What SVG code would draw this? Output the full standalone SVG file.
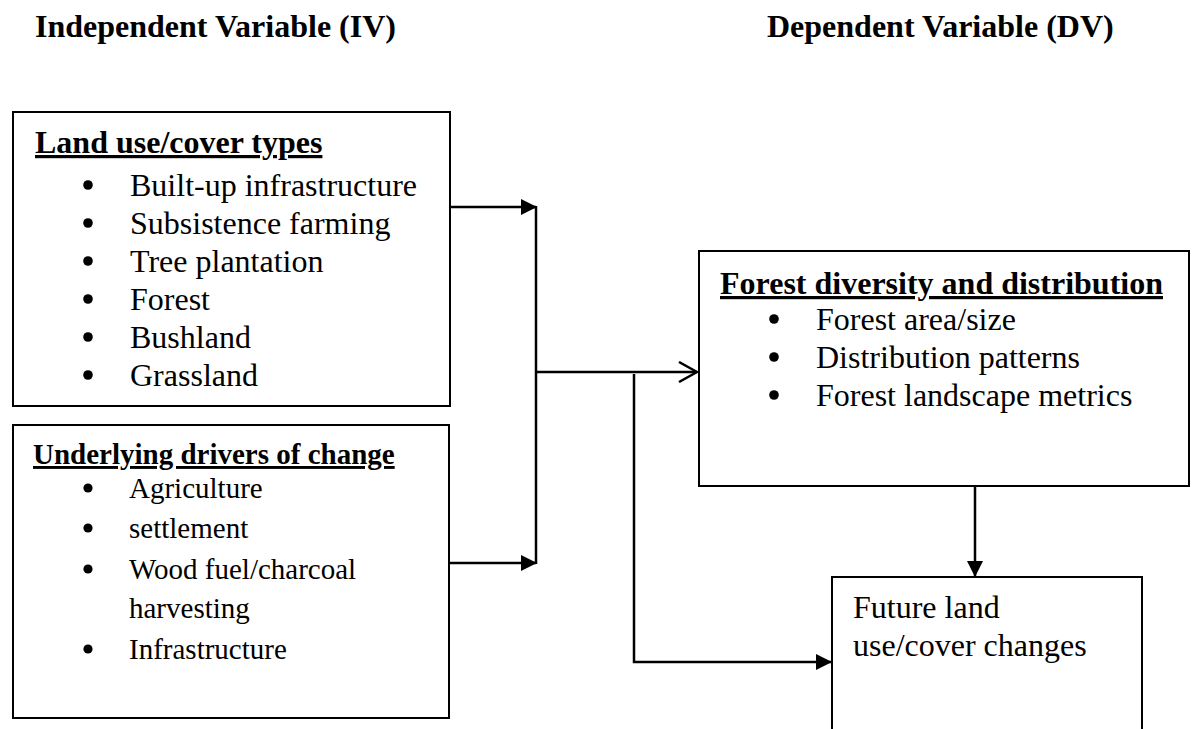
<svg xmlns="http://www.w3.org/2000/svg" width="1192" height="729" viewBox="0 0 1192 729">
<style>
  .box { fill: #ffffff; stroke: #000000; stroke-width: 2; }
  .t { font-family: "Liberation Serif", "Times New Roman", serif; fill: #000000; }
  .b32 { font-size: 32px; font-weight: bold; }
  .r32 { font-size: 32px; }
  .b29 { font-size: 29px; font-weight: bold; }
  .r29 { font-size: 29px; }
  .ul { text-decoration: underline; }
  .dot { fill: #000000; }
  .conn { fill: none; stroke: #000000; stroke-width: 2.5; }
</style>
<defs>
  <marker id="arrowFilled" viewBox="0 0 16 16" refX="15" refY="8" markerWidth="16" markerHeight="16" markerUnits="userSpaceOnUse" orient="auto">
    <path d="M0,0 L16,8 L0,16 Z" fill="#000000"/>
  </marker>
  <marker id="arrowOpen" viewBox="0 0 22 22" refX="20" refY="11" markerWidth="22" markerHeight="22" markerUnits="userSpaceOnUse" orient="auto">
    <path d="M2,1 L20,11 L2,21" fill="none" stroke="#000000" stroke-width="2.5"/>
  </marker>
</defs>
<rect width="1192" height="729" fill="#ffffff"/>

<g id="titles">
  <text class="t b32" x="35" y="37">Independent Variable (IV)</text>
  <text class="t b32" x="767" y="37">Dependent Variable (DV)</text>
</g>

<g id="node-landuse">
  <rect class="box" x="13" y="112" width="437" height="294"/>
  <text class="t b32 ul" x="35" y="153">Land use/cover types</text>
  <g class="dot">
    <circle cx="88" cy="185" r="4.8"/>
    <circle cx="88" cy="223" r="4.8"/>
    <circle cx="88" cy="261" r="4.8"/>
    <circle cx="88" cy="299" r="4.8"/>
    <circle cx="88" cy="337" r="4.8"/>
    <circle cx="88" cy="375" r="4.8"/>
  </g>
  <g class="t r32">
    <text x="130" y="196">Built-up infrastructure</text>
    <text x="130" y="234">Subsistence farming</text>
    <text x="130" y="272">Tree plantation</text>
    <text x="130" y="310">Forest</text>
    <text x="130" y="348">Bushland</text>
    <text x="130" y="386">Grassland</text>
  </g>
</g>

<g id="node-drivers">
  <rect class="box" x="13" y="425" width="436" height="293"/>
  <text class="t b29 ul" x="33" y="464">Underlying drivers of change</text>
  <g class="dot">
    <circle cx="88" cy="488" r="4.6"/>
    <circle cx="88" cy="528" r="4.6"/>
    <circle cx="88" cy="569" r="4.6"/>
    <circle cx="88" cy="649" r="4.6"/>
  </g>
  <g class="t r29">
    <text x="129" y="498">Agriculture</text>
    <text x="129" y="538">settlement</text>
    <text x="129" y="579">Wood fuel/charcoal</text>
    <text x="129" y="618">harvesting</text>
    <text x="129" y="659">Infrastructure</text>
  </g>
</g>

<g id="node-forest">
  <rect class="box" x="699" y="251" width="490" height="235"/>
  <text class="t b32 ul" x="720" y="294">Forest diversity and distribution</text>
  <g class="dot">
    <circle cx="774" cy="319" r="4.8"/>
    <circle cx="774" cy="357" r="4.8"/>
    <circle cx="774" cy="395" r="4.8"/>
  </g>
  <g class="t r32">
    <text x="816" y="330">Forest area/size</text>
    <text x="816" y="368">Distribution patterns</text>
    <text x="816" y="406">Forest landscape metrics</text>
  </g>
</g>

<g id="node-future">
  <rect class="box" x="832" y="577" width="310" height="170"/>
  <text class="t r32" x="853" y="618">Future land</text>
  <text class="t r32" x="853" y="656">use/cover changes</text>
</g>

<g id="connectors">
  <path class="conn" d="M450,207 H536" marker-end="url(#arrowFilled)"/>
  <path class="conn" d="M449,563 H536" marker-end="url(#arrowFilled)"/>
  <path class="conn" d="M536,206 V564"/>
  <path class="conn" d="M537,372 H697" marker-end="url(#arrowOpen)"/>
  <path class="conn" d="M634,374 V662 H831" marker-end="url(#arrowFilled)"/>
  <path class="conn" d="M975,487 V576" marker-end="url(#arrowFilled)"/>
</g>
</svg>
